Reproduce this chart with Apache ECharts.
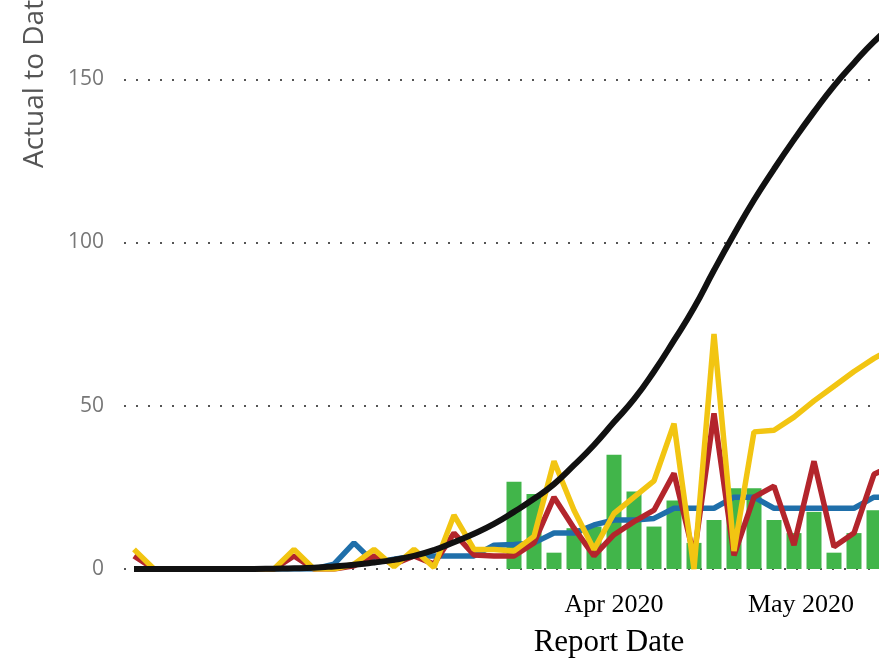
<!DOCTYPE html>
<html>
<head>
<meta charset="utf-8">
<script src="https://cdn.jsdelivr.net/npm/echarts@6/dist/echarts.min.js"></script>
<style>
  html, body { margin: 0; padding: 0; background: #fff; }
  #main { width: 879px; height: 662px; }
</style>
</head>
<body>
<div id="main"></div>
<script>
var myChart = echarts.init(document.getElementById('main'));

// report points, one per category slot
var reportIdx = [];
for (var i = 0; i < 39; i++) { reportIdx.push(String(i)); }

// month labels shown under the axis (slot -> text)
var monthTicks = { 24: 'Apr 2020', 33: 'May 2020' };

var actualBars = ['-', '-', '-', '-', '-', '-', '-', '-', '-', '-',
    '-', '-', '-', '-', '-', '-', '-', '-', '-',
    26.7, 23, 5, 12.5, 13, 35, 23.7, 13, 21, 8,
    15, 24.7, 24.7, 15, 11, 17.5, 5, 11, 18, 14];

var blueLine = [0, 0, 0, 0, 0, 0, 0, 0, 0, 0,
    1.5, 8, 2, 3, 4, 4, 4, 4, 7.3, 7.5,
    8, 11, 11, 13.5, 15, 15, 15.5, 18.6, 18.6, 18.6,
    22, 22, 18.6, 18.6, 18.6, 18.6, 18.6, 22, 22];

var redLine = [4, 0, 0, 0, 0, 0, 0, 0, 4, 0,
    0, 1, 4, 1.5, 4, 1.5, 11, 4.3, 4, 4,
    8, 22, 12.5, 4, 10.5, 14.5, 18, 29.3, 4, 47.7,
    4.2, 22, 25.4, 7.3, 33, 6.8, 11, 29, 32];

var yellowLine = [6, 0, 0, 0, 0, 0, 0, 0, 6, 0,
    0, 1.5, 6, 0.7, 6, 0.5, 16.5, 6, 6, 5.5,
    10, 33, 18, 6, 17, 22, 27, 44.5, 0, 72,
    5.5, 42, 42.5, 46.5, 51.5, 56, 60.5, 64.5, 68];

var blackCurve = [0, 0, 0, 0, 0, 0, 0, 0.1, 0.2, 0.4,
    0.8, 1.3, 2, 2.8, 4, 5.8, 8.2, 10.8, 13.8, 17.5,
    21.5, 26, 31.8, 38, 45, 52, 60.5, 70, 80, 91.5,
    102.5, 113, 122.5, 131.5, 140, 148, 155, 161.5, 167];

option = {
    animation: false,
    grid: {
        left: 124,
        right: -25,
        top: -84,
        bottom: 93,
        outerBoundsMode: 'none'
    },
    xAxis: {
        type: 'category',
        data: reportIdx,
        axisLine: { show: false },
        axisTick: { show: false },
        axisLabel: {
            interval: 0,
            margin: 23,
            color: '#000',
            fontFamily: 'Liberation Serif',
            fontSize: 26,
            formatter: function (v, idx) {
                var t = monthTicks[idx];
                if (!t) return '';
                return idx === 33 ? '{may|' + t + '}' : t;
            },
            rich: {
                may: {
                    fontFamily: 'Liberation Serif',
                    fontSize: 26,
                    color: '#000',
                    padding: [0, 0, 0, 14]
                }
            }
        }
    },
    yAxis: {
        type: 'value',
        min: 0,
        max: 200,
        interval: 50,
        axisLine: { show: false },
        axisTick: { show: false },
        axisLabel: {
            margin: 20,
            color: '#777',
            fontFamily: 'Open Sans',
            fontSize: 21
        },
        splitLine: {
            lineStyle: {
                color: '#555',
                width: 2,
                type: [2, 10]
            }
        }
    },
    graphic: [
        {
            type: 'text',
            x: 35,
            y: 168,
            rotation: Math.PI / 2,
            style: {
                text: 'Actual to Date',
                fill: '#555',
                font: '28px "Open Sans"',
                textAlign: 'left',
                textVerticalAlign: 'middle'
            }
        },
        {
            type: 'text',
            x: 609,
            y: 643,
            style: {
                text: 'Report Date',
                fill: '#000',
                font: '31px "Liberation Serif"',
                textAlign: 'center',
                textVerticalAlign: 'middle'
            }
        }
    ],
    series: [
        {
            name: 'Actual',
            type: 'bar',
            data: actualBars,
            barWidth: 15,
            itemStyle: { color: '#41B54A' }
        },
        {
            name: 'Blue',
            type: 'line',
            data: blueLine,
            symbol: 'none',
            lineStyle: { color: '#1F6FAA', width: 5.5 }
        },
        {
            name: 'Red',
            type: 'line',
            data: redLine,
            symbol: 'none',
            lineStyle: { color: '#B3252C', width: 5.5 }
        },
        {
            name: 'Yellow',
            type: 'line',
            data: yellowLine,
            symbol: 'none',
            lineStyle: { color: '#F2C512', width: 5.5 }
        },
        {
            name: 'Trend',
            type: 'line',
            data: blackCurve,
            symbol: 'none',
            smooth: 0.5,
            lineStyle: { color: '#111', width: 6 }
        }
    ]
};

myChart.setOption(option);
</script>
</body>
</html>
